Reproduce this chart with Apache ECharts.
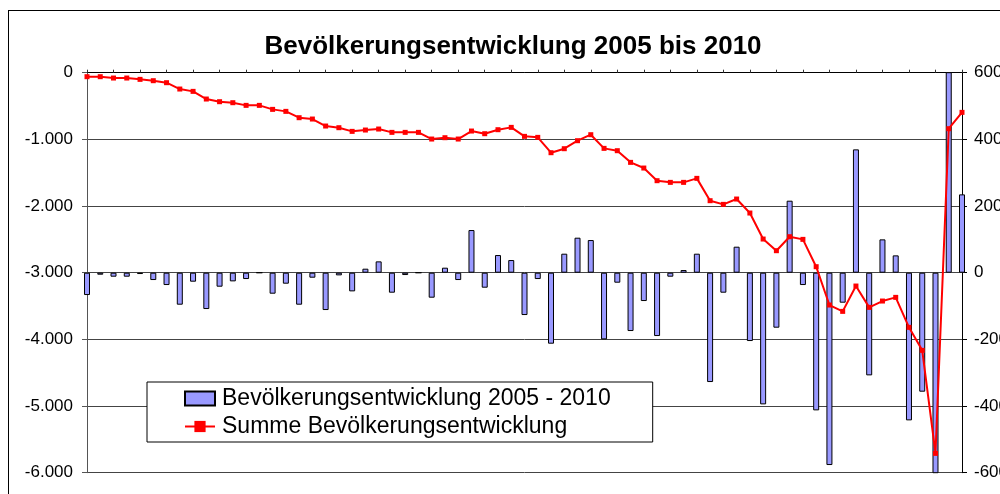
<!DOCTYPE html>
<html>
<head>
<meta charset="utf-8">
<script src="https://cdn.jsdelivr.net/npm/echarts@6/dist/echarts.min.js"></script>
<style>
  html, body { margin: 0; padding: 0; background: #fff; overflow: hidden; }
  #frame { position: absolute; left: 8px; top: 10px; width: 1200px; height: 700px; border: 1px solid #000; }
  #chart { position: absolute; left: 0; top: 0; width: 1000px; height: 494px; }
</style>
</head>
<body>
<div id="frame"></div>
<div id="chart"></div>
<script>
// Zeiträume (keine Beschriftung im Original sichtbar)
const perioden = [
  '1', '2', '3', '4', '5', '6', '7', '8', '9', '10',
  '11', '12', '13', '14', '15', '16', '17', '18', '19', '20',
  '21', '22', '23', '24', '25', '26', '27', '28', '29', '30',
  '31', '32', '33', '34', '35', '36', '37', '38', '39', '40',
  '41', '42', '43', '44', '45', '46', '47', '48', '49', '50',
  '51', '52', '53', '54', '55', '56', '57', '58', '59', '60',
  '61', '62', '63', '64', '65', '66', '67'
];

// Balken: Bevölkerungsentwicklung je Zeitraum (rechte Achse)
const entwicklung = [
  -67, -6, -12, -12, -4, -22, -37, -96, -27, -109,
  -42, -26, -19, 0, -63, -33, -96, -15, -112, -8,
  -56, 12, 34, -60, -7, 0, -75, 15, -22, 128,
  -45, 53, 38, -127, -19, -213, 57, 105, 98, -200,
  -30, -175, -85, -190, -12, 8, 57, -328, -60, 78,
  -205, -395, -165, 216, -37, -413, -577, -90, 370, -308,
  100, 52, -443, -357, -1545, 4870, 235
];

// Linie: Summe Bevölkerungsentwicklung (linke Achse)
const summe = [
  -60, -60, -80, -80, -100, -120, -150, -245, -280, -395,
  -435, -450, -490, -490, -550, -580, -675, -695, -800, -825,
  -880, -860, -845, -895, -895, -895, -995, -975, -995, -875,
  -915, -855, -820, -955, -970, -1200, -1140, -1020, -930, -1135,
  -1170, -1345, -1430, -1620, -1645, -1645, -1585, -1920, -1975, -1895,
  -2105, -2495, -2670, -2460, -2500, -2910, -3485, -3580, -3200, -3520,
  -3425, -3370, -3820, -4165, -5710, -840, -595
];

const chart = echarts.init(document.getElementById('chart'));

function deZahl(v) {
  const s = String(Math.abs(v)).replace(/\B(?=(\d{3})+(?!\d))/g, '.');
  return (v < 0 ? '-' : '') + s;
}

const font = 'Liberation Sans, Arial, sans-serif';

const option = {
  animation: false,
  title: {
    text: 'Bevölkerungsentwicklung 2005 bis 2010',
    left: 508,
    textAlign: 'center',
    top: 29,
    textStyle: { fontFamily: font, fontSize: 26, fontWeight: 'bold', color: '#000' }
  },
  legend: {
    orient: 'vertical',
    left: 147,
    top: 382,
    padding: [5, 42, 4, 37],
    itemGap: 5,
    itemWidth: 30,
    itemHeight: 14,
    backgroundColor: '#fff',
    borderColor: '#000',
    borderWidth: 1,
    textStyle: { fontFamily: font, fontSize: 23, color: '#000', padding: [0, 0, 0, 2] },
    data: [
      { name: 'Bevölkerungsentwicklung 2005 - 2010', icon: 'rect' },
      { name: 'Summe Bevölkerungsentwicklung' }
    ]
  },
  grid: { left: 87, right: 38, top: 72.7, bottom: 21.3, containLabel: false, outerBoundsMode: 'none' },
  xAxis: {
    type: 'category',
    data: perioden,
    position: 'top',
    boundaryGap: false,
    axisLine: { show: true, lineStyle: { color: '#000', width: 1 } },
    axisTick: { show: true, length: 3, inside: false, lineStyle: { color: '#333' } },
    axisLabel: { show: false },
    splitLine: { show: false }
  },
  yAxis: [
    {
      type: 'value',
      min: -6000,
      max: 0,
      interval: 1000,
      position: 'left',
      axisLine: { show: true, lineStyle: { color: '#555', width: 1 } },
      axisTick: { show: true, length: 5, lineStyle: { color: '#555' } },
      axisLabel: { margin: 14, fontFamily: font, fontSize: 17, color: '#000', formatter: deZahl },
      splitLine: { show: true, lineStyle: { color: '#444', width: 1 } }
    },
    {
      type: 'value',
      min: -600,
      max: 600,
      interval: 200,
      position: 'right',
      axisLine: { show: true, lineStyle: { color: '#000', width: 1 } },
      axisTick: { show: true, length: 5, lineStyle: { color: '#000' } },
      axisLabel: { margin: 12, fontFamily: font, fontSize: 17, color: '#000' },
      splitLine: { show: false }
    }
  ],
  series: [
    {
      name: 'Bevölkerungsentwicklung 2005 - 2010',
      type: 'bar',
      yAxisIndex: 1,
      data: entwicklung,
      barWidth: 6,
      clip: true,
      itemStyle: { color: '#9999ff', borderColor: '#000', borderWidth: 1 }
    },
    {
      name: 'Summe Bevölkerungsentwicklung',
      type: 'line',
      yAxisIndex: 0,
      data: summe,
      symbol: 'rect',
      symbolSize: 5,
      showSymbol: true,
      lineStyle: { color: '#ff0000', width: 2 },
      itemStyle: { color: '#ff0000' },
      z: 5
    }
  ]
};

chart.setOption(option);
</script>
</body>
</html>
